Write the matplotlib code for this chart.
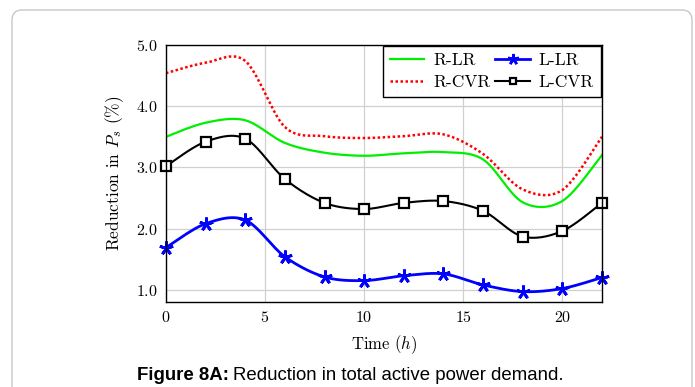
import numpy as np
import matplotlib
matplotlib.use("Agg")
import matplotlib.pyplot as plt
from matplotlib.patches import FancyBboxPatch
from matplotlib.ticker import FuncFormatter

plt.rcParams['font.family'] = ['cmr10', 'DejaVu Serif']
plt.rcParams['mathtext.fontset'] = 'cm'
plt.rcParams['axes.formatter.use_mathtext'] = True

# hours (every 2 h)
hours = [0, 2, 4, 6, 8, 10, 12, 14, 16, 18, 20, 22]

r_lr = [3.50, 3.73, 3.77, 3.40, 3.24, 3.19, 3.23, 3.25, 3.13, 2.43, 2.45, 3.20]
r_cvr = [4.54, 4.71, 4.74, 3.66, 3.51, 3.48, 3.51, 3.54, 3.22, 2.64, 2.63, 3.50]
l_lr = [1.69, 2.08, 2.14, 1.54, 1.21, 1.15, 1.23, 1.26, 1.08, 0.97, 1.02, 1.20]
l_cvr = [3.02, 3.42, 3.47, 2.81, 2.42, 2.32, 2.42, 2.45, 2.29, 1.87, 1.96, 2.42]

x_ticks = [0, 5, 10, 15, 20]
y_ticks = [1.0, 2.0, 3.0, 4.0, 5.0]


def smooth(x, y, k=0.16, n=30):
    # bezier through the points, like a "smooth" plot handler
    pts = np.column_stack([x, y]).astype(float)
    out = [pts[0]]
    t = np.linspace(0, 1, n)[1:, None]
    for i in range(len(pts) - 1):
        p0 = pts[max(i - 1, 0)]
        p1 = pts[i]
        p2 = pts[i + 1]
        p3 = pts[min(i + 2, len(pts) - 1)]
        c1 = p1 + (p2 - p0) * k
        c2 = p2 - (p3 - p1) * k
        seg = (1 - t)**3 * p1 + 3 * (1 - t)**2 * t * c1 + 3 * (1 - t) * t**2 * c2 + t**3 * p2
        out.extend(seg)
    out = np.array(out)
    return out[:, 0], out[:, 1]


fig = plt.figure(figsize=(6.95, 3.87), dpi=100)

# rounded frame around the figure
frame = FancyBboxPatch((0.12, -0.3), 6.80, 4.07, boxstyle="round,pad=0,rounding_size=0.1",
                       transform=fig.dpi_scale_trans, facecolor='white',
                       edgecolor='#c8c8c8', lw=1.0, zorder=-10)
fig.patches.append(frame)

ax = fig.add_axes([0.2388, 0.2196, 0.6273, 0.6641])

sx, sy = smooth(hours, r_lr)
ax.plot(sx, sy, color='#00ee00', lw=1.6)
sx, sy = smooth(hours, r_cvr)
ax.plot(sx, sy, color='red', lw=1.8, ls=(0, (1, 1)))
sx, sy = smooth(hours, l_lr)
ax.plot(sx, sy, color='blue', lw=2.0)
ax.plot(hours, l_lr, ls='none', marker=(5, 2), ms=10, mew=2.0, color='blue', clip_on=False)
sx, sy = smooth(hours, l_cvr)
ax.plot(sx, sy, color='black', lw=1.5)
ax.plot(hours, l_cvr, ls='none', marker='s', ms=7, mew=1.6, mfc='white', mec='black',
        clip_on=False)

# legend handles (line + marker)
h_rlr, = ax.plot([], [], color='#00ee00', lw=1.6)
h_rcvr, = ax.plot([], [], color='red', lw=1.8, ls=(0, (1, 1)))
h_llr, = ax.plot([], [], color='blue', lw=2.0, marker=(5, 2), ms=8, mew=1.8)
h_lcvr, = ax.plot([], [], color='black', lw=1.5, marker='s', ms=5, mew=1.6, mfc='white')
leg = ax.legend([h_rlr, h_rcvr, h_llr, h_lcvr], ['R-LR', 'R-CVR', 'L-LR', 'L-CVR'],
                ncol=2, loc='upper right', fontsize=12.5, frameon=True, fancybox=False,
                edgecolor='black', framealpha=1, handlelength=2.0, columnspacing=0.3,
                handletextpad=0.5, borderaxespad=0.05, borderpad=0.4, labelspacing=0.4)
leg.get_frame().set_linewidth(1.0)

ax.set_xlim(0, 22)
ax.set_ylim(0.8, 5.0)
ax.set_xticks(x_ticks)
ax.set_yticks(y_ticks)
ax.xaxis.set_major_formatter(FuncFormatter(lambda v, p: f"${v:.0f}$"))
ax.yaxis.set_major_formatter(FuncFormatter(lambda v, p: f"${v:.1f}$"))
ax.tick_params(labelsize=11.5, length=0, pad=6)
ax.grid(True, color='#d0d0d0', lw=0.9)
ax.set_axisbelow(True)
for s in ax.spines.values():
    s.set_linewidth(1.0)

ax.set_xlabel(r'Time $(h)$', fontsize=12, labelpad=6)
ax.set_ylabel(r'Reduction in $P_s$ $(\%)$', fontsize=12.5, labelpad=7)

# caption: bold part + normal part
t1 = fig.text(137 / 695, 1 - 380 / 387, 'Figure 8A:', fontsize=13.4, fontweight='bold',
              family='Liberation Sans', va='baseline')
fig.canvas.draw()
w = t1.get_window_extent().width
fig.text(137 / 695 + (w + 4) / 695, 1 - 380 / 387, 'Reduction in total active power demand.',
         fontsize=13.4, family='Liberation Sans', va='baseline')

fig.savefig('out.png', dpi=100)
